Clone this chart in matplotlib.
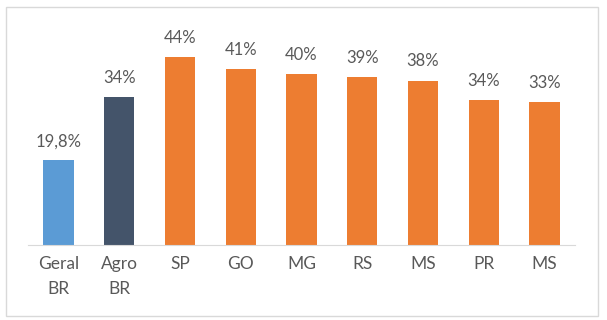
import matplotlib.pyplot as plt
import numpy as np
from matplotlib.patches import Rectangle

categorias = ["Geral\nBR", "Agro\nBR", "SP", "GO", "MG", "RS", "MS", "PR", "MS"]
valores = [19.8, 34.6, 44.0, 41.2, 40.1, 39.3, 38.5, 34.0, 33.5]
rotulos = ["19,8%", "34%", "44%", "41%", "40%", "39%", "38%", "34%", "33%"]
cores = ["#5B9BD5", "#44546A"] + ["#ED7D31"] * 7

plt.rcParams['font.family'] = ['Lato', 'DejaVu Sans']

fig = plt.figure(figsize=(6.07, 3.2), dpi=100)
ax = fig.add_axes([0.0461, 0.2344, 0.9012, 0.6672])

x = np.arange(len(categorias))
barras = ax.bar(x, valores, 0.5, color=cores)

for b, txt in zip(barras, rotulos):
    ax.annotate(txt, (b.get_x() + b.get_width() / 2, b.get_height()),
                xytext=(0, 8), textcoords="offset points",
                ha="center", va="bottom", fontsize=12, color="#595959")

ax.set_xlim(-0.5, len(categorias) - 0.5)
ax.set_ylim(0, 50)
ax.set_xticks(x)
ax.set_xticklabels(categorias, fontsize=12.5, color="#595959", linespacing=1.7)
ax.tick_params(axis="x", length=0, pad=8)
ax.set_yticks([])
for s in ["top", "right", "left"]:
    ax.spines[s].set_visible(False)
ax.spines["bottom"].set_color("#D9D9D9")

# moldura do grafico
fig.patches.append(Rectangle((6 / 607, 4 / 320), 592 / 607, 309 / 320,
                             transform=fig.transFigure, fill=False,
                             edgecolor="#D9D9D9", linewidth=1))

plt.savefig("out.png")
plt.close()
